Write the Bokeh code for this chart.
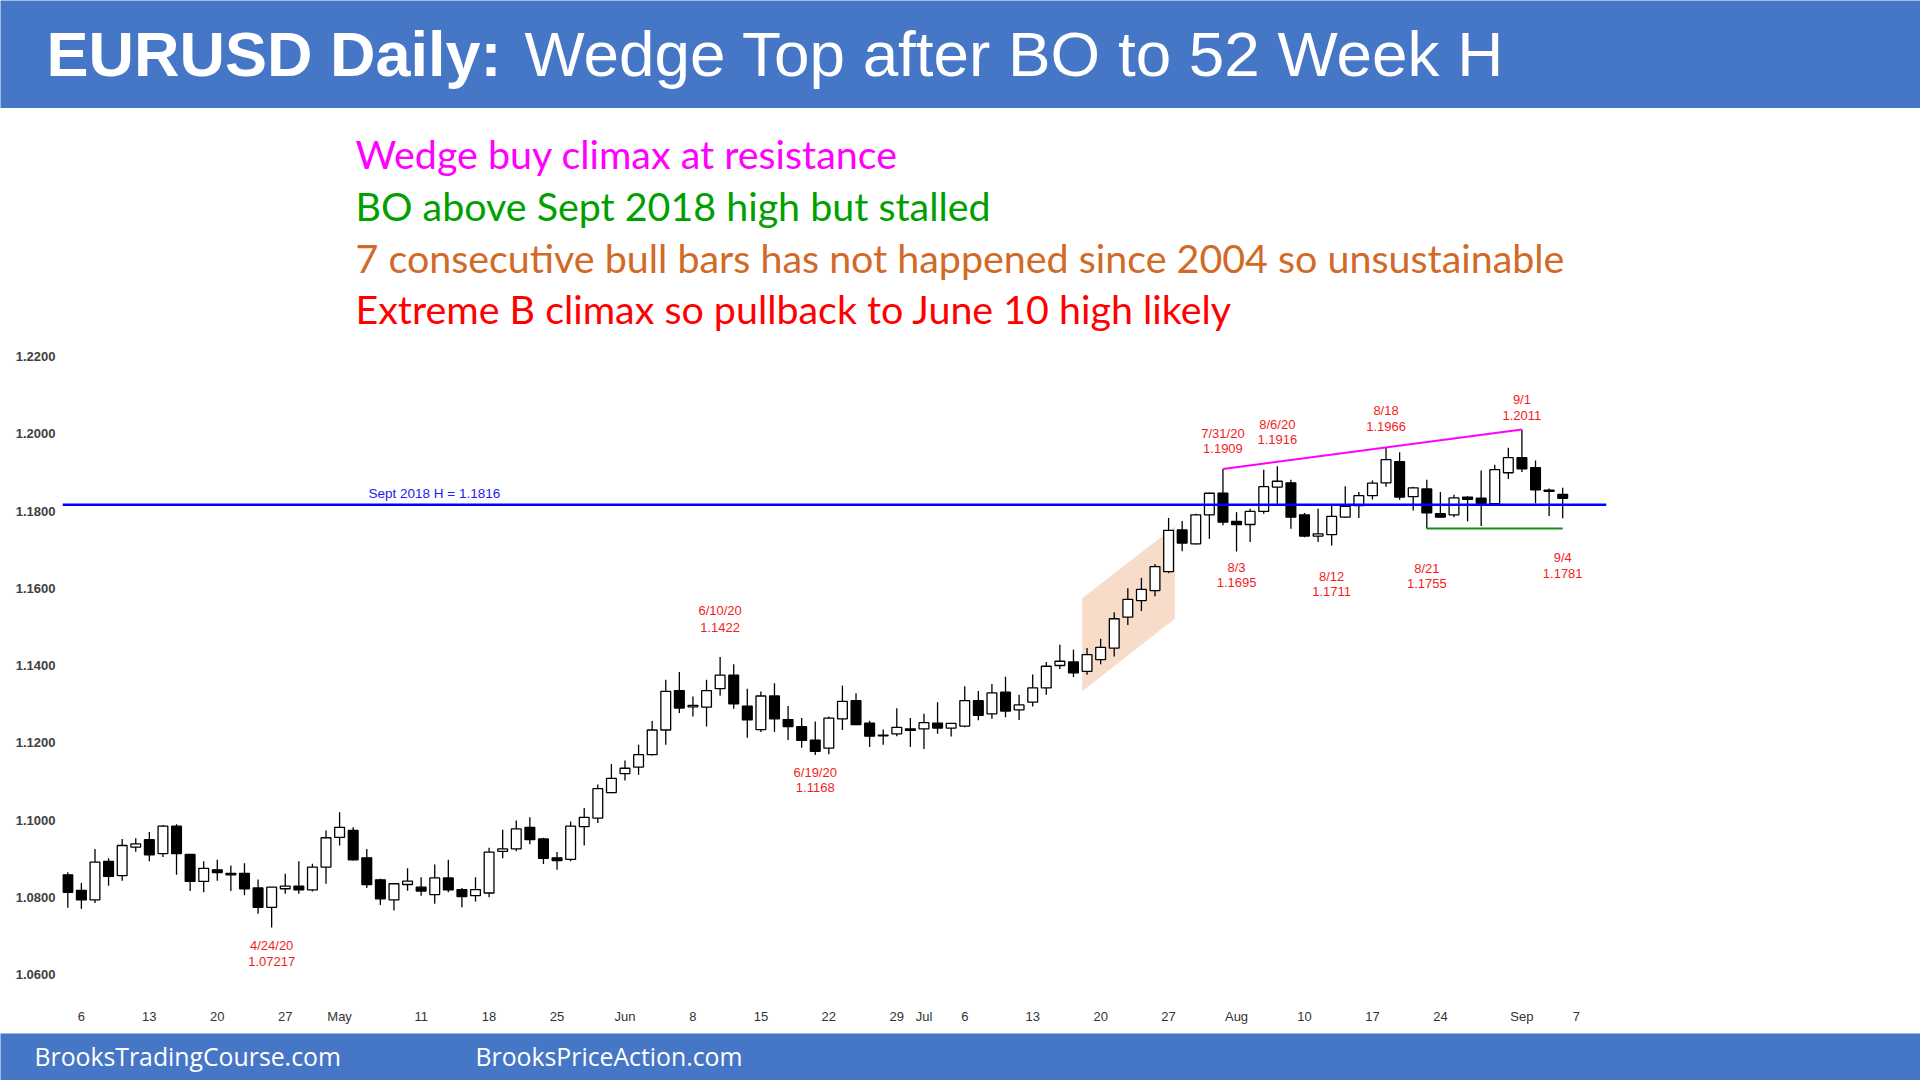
import numpy as np
from bokeh.plotting import figure
from bokeh.models import ColumnDataSource, FixedTicker, Span, Range1d, NumeralTickFormatter
from bokeh.layouts import column
from bokeh.core.properties import value
from bokeh.embed import file_html
from bokeh.resources import INLINE

# ---------------- data ----------------
start_date = "2020-04-03"
end_date = "2020-09-04"

opens = [1.0858, 1.0818, 1.0793, 1.0893, 1.0856, 1.0930, 1.0949, 1.0913, 1.0984, 1.0911,
         1.0841, 1.0871, 1.0862, 1.0862, 1.0824, 1.0774, 1.0822, 1.0829, 1.0819, 1.0878,
         1.0955, 1.0973, 1.0902, 1.0845, 1.0793, 1.0833, 1.0826, 1.0807, 1.0850, 1.0820,
         1.0804, 1.0811, 1.0919, 1.0925, 1.0981, 1.0951, 1.0902, 1.0898, 1.0983, 1.1005,
         1.1071, 1.1120, 1.1137, 1.1169, 1.1233, 1.1335, 1.1293, 1.1292, 1.1340, 1.1375,
         1.1295, 1.1234, 1.1321, 1.1260, 1.1242, 1.1207, 1.1186, 1.1262, 1.1309, 1.1251,
         1.1218, 1.1223, 1.1236, 1.1236, 1.1251, 1.1238, 1.1243, 1.1309, 1.1275, 1.1331,
         1.1285, 1.1305, 1.1342, 1.1400, 1.1409, 1.1385, 1.1415, 1.1445, 1.1525, 1.1568,
         1.1594, 1.1643, 1.1751, 1.1715, 1.1790, 1.1846, 1.1773, 1.1765, 1.1799, 1.1862,
         1.1873, 1.1790, 1.1735, 1.1739, 1.1784, 1.1814, 1.1840, 1.1873, 1.1928, 1.1837,
         1.1857, 1.1793, 1.1790, 1.1836, 1.1833, 1.1819, 1.1899, 1.1938, 1.1912, 1.1854,
         1.1843]
highs = [1.0865, 1.0837, 1.0925, 1.0901, 1.0951, 1.0953, 1.0969, 1.0987, 1.0989, 1.0912,
         1.0893, 1.0897, 1.0882, 1.0888, 1.0846, 1.0826, 1.0861, 1.0893, 1.0887, 1.0973,
         1.1020, 1.0981, 1.0925, 1.0848, 1.0835, 1.0875, 1.0852, 1.0885, 1.0897, 1.0824,
         1.0852, 1.0928, 1.0975, 1.0999, 1.1007, 1.0954, 1.0917, 1.0996, 1.1031, 1.1092,
         1.1145, 1.1154, 1.1195, 1.1256, 1.1363, 1.1383, 1.1320, 1.1363, 1.1422, 1.1403,
         1.1340, 1.1333, 1.1354, 1.1295, 1.1264, 1.1255, 1.1268, 1.1348, 1.1328, 1.1257,
         1.1234, 1.1289, 1.1264, 1.1275, 1.1305, 1.1251, 1.1346, 1.1334, 1.1352, 1.1371,
         1.1324, 1.1377, 1.1409, 1.1454, 1.1441, 1.1445, 1.1469, 1.1538, 1.1600, 1.1627,
         1.1663, 1.1782, 1.1774, 1.1793, 1.1847, 1.1909, 1.1797, 1.1806, 1.1907, 1.1916,
         1.1881, 1.1795, 1.1806, 1.1814, 1.1864, 1.1849, 1.1879, 1.1966, 1.1952, 1.1863,
         1.1881, 1.1849, 1.1842, 1.1838, 1.1905, 1.1920, 1.1964, 1.2011, 1.1931, 1.1858,
         1.1860]
lows = [1.0773, 1.0770, 1.0785, 1.0830, 1.0843, 1.0918, 1.0893, 1.0904, 1.0858, 1.0816,
        1.0813, 1.0843, 1.0816, 1.0805, 1.0757, 1.07217, 1.0809, 1.0809, 1.0815, 1.0835,
        1.0934, 1.0895, 1.0824, 1.0780, 1.0766, 1.0817, 1.0804, 1.0783, 1.0813, 1.0774,
        1.0789, 1.0800, 1.0901, 1.0919, 1.0937, 1.0886, 1.0871, 1.0893, 1.0934, 1.0992,
        1.1069, 1.1102, 1.1117, 1.1167, 1.1195, 1.1277, 1.1268, 1.1242, 1.1322, 1.1288,
        1.1213, 1.1228, 1.1228, 1.1207, 1.1187, 1.1168, 1.1170, 1.1233, 1.1246, 1.1189,
        1.1195, 1.1217, 1.1189, 1.1184, 1.1223, 1.1216, 1.1240, 1.1258, 1.1262, 1.1266,
        1.1259, 1.1294, 1.1324, 1.1391, 1.1370, 1.1376, 1.1403, 1.1423, 1.1505, 1.1541,
        1.1579, 1.1639, 1.1696, 1.1713, 1.1728, 1.1763, 1.1695, 1.1720, 1.1793, 1.1817,
        1.1754, 1.1732, 1.1720, 1.1711, 1.1782, 1.1782, 1.1830, 1.1863, 1.1829, 1.1801,
        1.1755, 1.1783, 1.1784, 1.1773, 1.1761, 1.1814, 1.1883, 1.1901, 1.1820, 1.1787,
        1.1781]
closes = [1.0813, 1.0793, 1.0891, 1.0854, 1.0934, 1.0938, 1.0910, 1.0984, 1.0913, 1.0841,
          1.0875, 1.0864, 1.0858, 1.0822, 1.0774, 1.0826, 1.0829, 1.0819, 1.0878, 1.0954,
          1.0981, 1.0897, 1.0833, 1.0796, 1.0835, 1.0842, 1.0816, 1.0850, 1.0819, 1.0802,
          1.0820, 1.0917, 1.0925, 1.0977, 1.0949, 1.0901, 1.0895, 1.0984, 1.1007, 1.1081,
          1.1108, 1.1134, 1.1169, 1.1233, 1.1333, 1.1290, 1.1297, 1.1335, 1.1375, 1.1301,
          1.1259, 1.1321, 1.1262, 1.1242, 1.1206, 1.1178, 1.1264, 1.1307, 1.1247, 1.1217,
          1.1220, 1.1240, 1.1232, 1.1252, 1.1238, 1.1250, 1.1309, 1.1271, 1.1329, 1.1282,
          1.1298, 1.1342, 1.1398, 1.1411, 1.1381, 1.1428, 1.1447, 1.1521, 1.1571, 1.1597,
          1.1656, 1.1750, 1.1717, 1.1790, 1.1846, 1.1771, 1.1765, 1.1799, 1.1863, 1.1877,
          1.1784, 1.1735, 1.1741, 1.1786, 1.1812, 1.1840, 1.1872, 1.1933, 1.1836, 1.1860,
          1.1795, 1.1784, 1.1834, 1.1830, 1.1820, 1.1907, 1.1938, 1.1909, 1.1855, 1.1851,
          1.1833]

tick_dates = ["2020-04-06", "2020-04-13", "2020-04-20", "2020-04-27", "2020-05-01",
              "2020-05-11", "2020-05-18", "2020-05-25", "2020-06-01", "2020-06-08",
              "2020-06-15", "2020-06-22", "2020-06-29", "2020-07-01", "2020-07-06",
              "2020-07-13", "2020-07-20", "2020-07-27", "2020-08-03", "2020-08-10",
              "2020-08-17", "2020-08-24", "2020-09-01", "2020-09-07"]
tick_labels = ["6", "13", "20", "27", "May", "11", "18", "25", "Jun", "8", "15", "22",
               "29", "Jul", "6", "13", "20", "27", "Aug", "10", "17", "24", "Sep", "7"]
price_ticks = [1.06, 1.08, 1.10, 1.12, 1.14, 1.16, 1.18, 1.20, 1.22]

sept2018_high = 1.1816
wedge_dates = ["2020-07-31", "2020-09-01"]          # wedge top line (highs)
support_dates = ["2020-08-21", "2020-09-04"]        # support line at 8/21 low

callouts = [  # date, anchor, line1, line2, offsets in px (line1, line2)
    ("2020-04-24", "low", "4/24/20", "1.07217", -18, -34),
    ("2020-06-10", "high", "6/10/20", "1.1422", 47, 30),
    ("2020-06-19", "low", "6/19/20", "1.1168", -17, -32),
    ("2020-07-31", "high", "7/31/20", "1.1909", 35, 20),
    ("2020-08-06", "high", "8/6/20", "1.1916", 42, 27),
    ("2020-08-18", "high", "8/18", "1.1966", 36, 20),
    ("2020-09-01", "high", "9/1", "1.2011", 30, 14),
    ("2020-08-03", "low", "8/3", "1.1695", -16, -31),
    ("2020-08-12", "low", "8/12", "1.1711", -31, -46),
    ("2020-08-21", "low", "8/21", "1.1755", -40, -55),
    ("2020-09-04", "low", "9/4", "1.1781", -39, -55),
]

notes = ["Wedge buy climax at resistance",
         "BO above Sept 2018 high but stalled",
         "7 consecutive bull bars has not happened since 2004 so unsustainable",
         "Extreme B climax so pullback to June 10 high likely"]
note_colors = ["#FF00FF", "#00A000", "#D06A26", "#FF0000"]

# ---------------- helpers ----------------
def day_index(d):
    return int(np.busday_count(start_date, d))

n = len(opens)
xs = list(range(n))
o = np.array(opens); h = np.array(highs); l = np.array(lows); c = np.array(closes)

# page geometry
W, H = 1920, 1080
HEAD_H, FOOT_H = 108, 47
MAIN_H = H - HEAD_H - FOOT_H
F_LEFT, F_RIGHT = 62, 1606
F_TOP, F_BOT = 120, 1000
BAR_PX = 13.59
X0_PX = 67.3
x0 = (F_LEFT - X0_PX) / BAR_PX
x1 = (F_RIGHT - X0_PX) / BAR_PX
PX_PER_PRICE = 3862.5
y1 = 1.22 + (356 - F_TOP) / PX_PER_PRICE
y0 = 1.22 - (F_BOT - 356) / PX_PER_PRICE
ppx = (y1 - y0) / (F_BOT - F_TOP)

def fx(page_x):
    return x0 + (page_x - F_LEFT) / BAR_PX

def fy(page_y):
    return y1 - (page_y - F_TOP) * ppx

# ---------------- header ----------------
BLUE = "#4677C6"
hdr = figure(width=W, height=HEAD_H, x_range=Range1d(0, W), y_range=Range1d(0, HEAD_H),
             output_backend="svg", toolbar_location=None, min_border=0,
             x_axis_type=None, y_axis_type=None, frame_align=False)
hdr.background_fill_color = BLUE
hdr.border_fill_color = BLUE
hdr.outline_line_color = None
hdr.grid.visible = False
hdr.text(x=[46], y=[55], text=["EURUSD Daily:"], text_font=value("Liberation Sans"),
         text_font_size="63px", text_font_style="bold", text_color="white",
         text_baseline="alphabetic")
hdr.text(x=[524], y=[55], text=["Wedge Top after BO to 52 Week H"],
         text_font=value("Liberation Sans"), text_font_size="63.8px", text_color="white",
         text_baseline="alphabetic")

# ---------------- main chart ----------------
p = figure(width=W, height=MAIN_H, x_range=Range1d(x0, x1), y_range=Range1d(y0, y1),
           output_backend="svg", toolbar_location=None, frame_align=False,
           min_border_left=F_LEFT, min_border_right=W - F_RIGHT,
           min_border_top=F_TOP - HEAD_H, min_border_bottom=MAIN_H - (F_BOT - HEAD_H))
p.outline_line_color = None
p.grid.visible = False
p.background_fill_color = "white"

# bull micro channel shading
ch_l, ch_r = fx(1081.7), fx(1174.3)
p.patch(x=[ch_l, ch_r, ch_r, ch_l], y=[fy(597.7), fy(526), fy(618.3), fy(690.7)],
        fill_color="#F6DCC9", line_color=None)

# Sept 2018 high
p.add_layout(Span(location=sept2018_high, dimension="width", line_color="#0000FF",
                  line_width=2.5))
p.text(x=[fx(368)], y=[sept2018_high + 11.4 * ppx], text=["Sept 2018 H = 1.1816"],
       text_font=value("Liberation Sans"), text_font_size="13.5px", text_color="#2020F0",
       text_baseline="alphabetic")

# candles
bull = c >= o
src = ColumnDataSource(dict(
    x=xs, high=h, low=l,
    top=np.maximum(o, c), bottom=np.minimum(o, c),
    fill=["white" if b else "black" for b in bull]))
p.segment(x0="x", y0="high", x1="x", y1="low", source=src, line_color="black",
          line_width=1.3)
p.vbar(x="x", width=0.72, top="top", bottom="bottom", source=src, fill_color="fill",
       line_color="black", line_width=1.3)

# wedge top line and support line
wi = [day_index(d) for d in wedge_dates]
p.line(x=wi, y=[h[wi[0]], h[wi[1]]], line_color="#FF00FF", line_width=2)
si = [day_index(d) for d in support_dates]
p.line(x=si, y=[l[si[0]], l[si[0]]], line_color="#1A8C1A", line_width=2)

# callouts
cx, cy, ct = [], [], []
for d, anchor, t1, t2, off1, off2 in callouts:
    i = day_index(d)
    base = h[i] if anchor == "high" else l[i]
    cx += [i, i]
    cy += [base + off1 * ppx, base + off2 * ppx]
    ct += [t1, t2]
p.text(x=cx, y=cy, text=ct, text_font=value("Liberation Sans"), text_font_size="13px",
       text_color="#F21D1D", text_align="center", text_baseline="middle")

# notes
note_base = [153, 204.5, 256.5, 308]
p.text(x=[fx(355)] * 4, y=[fy(v) for v in note_base], text=notes,
       text_color=note_colors, text_font=value("Lato"), text_font_size="39.4px",
       text_baseline="alphabetic")

# axes
p.yaxis.ticker = FixedTicker(ticks=price_ticks)
p.yaxis.formatter = NumeralTickFormatter(format="0.0000")
p.yaxis.axis_line_color = None
p.yaxis.major_tick_line_color = None
p.yaxis.minor_tick_line_color = None
p.yaxis.major_tick_out = 0
p.yaxis.major_label_standoff = 7
p.yaxis.major_label_text_font = "Liberation Sans"
p.yaxis.major_label_text_font_size = "13px"
p.yaxis.major_label_text_font_style = "bold"
p.yaxis.major_label_text_color = "#404040"

tick_idx = [day_index(d) for d in tick_dates]
p.xaxis.ticker = FixedTicker(ticks=tick_idx)
p.xaxis.major_label_overrides = {i: lab for i, lab in zip(tick_idx, tick_labels)}
p.xaxis.axis_line_color = None
p.xaxis.major_tick_line_color = None
p.xaxis.minor_tick_line_color = None
p.xaxis.major_tick_out = 0
p.xaxis.major_label_standoff = 8
p.xaxis.major_label_text_font = "Liberation Sans"
p.xaxis.major_label_text_font_size = "13px"
p.xaxis.major_label_text_color = "#333333"

# ---------------- footer ----------------
ftr = figure(width=W, height=FOOT_H, x_range=Range1d(0, W), y_range=Range1d(0, FOOT_H),
             output_backend="svg", toolbar_location=None, min_border=0,
             x_axis_type=None, y_axis_type=None, frame_align=False)
ftr.background_fill_color = BLUE
ftr.border_fill_color = BLUE
ftr.outline_line_color = None
ftr.grid.visible = False
ftr.text(x=[34, 475], y=[24.3, 24.3], text=["BrooksTradingCourse.com", "BrooksPriceAction.com"],
         text_font=value("Open Sans"), text_font_size="24.8px", text_color="white",
         text_baseline="alphabetic")

layout = column(hdr, p, ftr, spacing=0)
open("out.html", "w").write(file_html(layout, INLINE))
